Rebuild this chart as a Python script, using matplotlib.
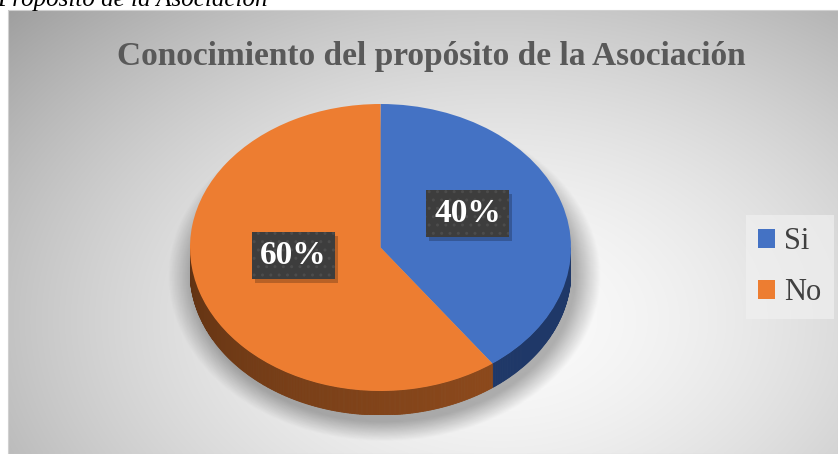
import numpy as np
import matplotlib
matplotlib.use("Agg")
import matplotlib.pyplot as plt
from matplotlib.patches import Polygon, Rectangle

# survey answers
categories = ["Si", "No"]
shares = [40, 60]
slice_colors = ["#4472C4", "#ED7D31"]
title = "Conocimiento del propósito de la Asociación"
caption = "Propósito de la Asociación"

W, H = 838, 454
SERIF = ["Liberation Serif", "DejaVu Serif"]

fig = plt.figure(figsize=(W / 100, H / 100), dpi=100)
fig.patch.set_facecolor("white")

# pixel-space axes for background, shadow, titles, legend
ax = fig.add_axes([0, 0, 1, 1])
ax.set_xlim(0, W)
ax.set_ylim(H, 0)
ax.axis("off")

# chart area with radial grey gradient
x0, y0, x1, y1 = 8, 10, W, H
gx, gy = np.meshgrid(np.linspace(x0, x1, 300), np.linspace(y0, y1, 200))
r = np.sqrt(((gx - 500) / 560) ** 2 + ((gy - 320) / 380) ** 2)
shade = np.clip(0.985 - 0.27 * r ** 1.6, 0, 1)
ax.imshow(np.dstack([shade] * 3), extent=[x0, x1, y1, y0], aspect="auto",
          interpolation="bilinear", zorder=0)
ax.add_patch(Rectangle((x0, y0), x1 - x0, y1 - y0, fill=False,
                       ec="#d0d0d0", lw=0.8, zorder=1))

# soft shadow under the pie
sx, sy = np.meshgrid(np.linspace(150, 620, 300), np.linspace(90, 454, 240))
d = np.sqrt(((sx - 384) / 197) ** 2 + ((sy - 276) / 151) ** 2)
alpha = 0.30 * np.clip((1.10 - d) / 0.13, 0, 1)
shadow = np.zeros(sx.shape + (4,))
shadow[..., 3] = alpha
ax.imshow(shadow, extent=[150, 620, 454, 90], aspect="auto",
          interpolation="bilinear", zorder=2)

# pie axes: unit circle mapped onto the ellipse of the top face
cx, cy, a, b, depth = 380.5, 247.5, 190.5, 143.5, 24
dz = depth / b
pax = fig.add_axes([(cx - a) / W, (H - (cy + b + depth)) / H,
                    2 * a / W, (2 * b + depth) / H])
wedges, _, autotexts = pax.pie(
    shares, colors=slice_colors, startangle=90, counterclock=False,
    autopct="%1.0f%%", pctdistance=0.48,
    textprops=dict(color="white", fontsize=24, fontweight="bold", family=SERIF),
)
pax.set_aspect("auto")
pax.set_xlim(-1, 1)
pax.set_ylim(-1 - dz, 1)
pax.axis("off")
pax.patch.set_alpha(0)


def side_color(t, base):
    # darker towards the left end of the rim
    k = 0.55 + 0.3 * np.clip((t + 180) / 120, 0, 1) ** 0.7
    return tuple(np.clip(np.array(base) * k, 0, 1))


side_bases = [matplotlib.colors.to_rgb("#25427a"), matplotlib.colors.to_rgb("#a35520")]
for w, base in zip(wedges, side_bases):
    for shift in (-360, 0, 360):
        lo = max(w.theta1 + shift, -180)
        hi = min(w.theta2 + shift, 0)
        if hi <= lo:
            continue
        ts = np.linspace(lo, hi, int((hi - lo) * 2) + 2)
        for t1, t2 in zip(ts[:-1], ts[1:]):
            r1, r2 = np.radians(t1), np.radians(t2)
            pts = [(np.cos(r1), np.sin(r1)), (np.cos(r2), np.sin(r2)),
                   (np.cos(r2), np.sin(r2) - dz), (np.cos(r1), np.sin(r1) - dz)]
            pax.add_patch(Polygon(pts, closed=True, fc=side_color(t1, base),
                                  ec=side_color(t1, base), lw=0.6, zorder=0.5))

for w in wedges:
    w.set_zorder(1)
    w.set_edgecolor("none")

# percentage labels in dark dotted boxes
for t in autotexts:
    px, py = t.get_position()
    t.set_position((px, py + 0.09))
    t.set_zorder(5)
    t.set_bbox(dict(boxstyle="square,pad=0.24", fc="#3d3d3d", ec="#4c4c4c",
                    lw=0, hatch=".."))

# drop shadow behind each label box, sized from the rendered box
fig.canvas.draw()
inv = pax.transData.inverted()
for t in autotexts:
    ext = t.get_bbox_patch().get_window_extent()
    (bx0, by0), (bx1, by1) = inv.transform([[ext.x0 + 3, ext.y0 - 4],
                                            [ext.x1 + 3, ext.y1 - 4]])
    pax.add_patch(Rectangle((bx0, by0), bx1 - bx0, by1 - by0,
                            fc="black", ec="none", alpha=0.22, zorder=4))

# titles
ax.text(431, 56, title, ha="center", va="center", fontsize=24,
        fontweight="bold", color="#595959", family=SERIF, zorder=6)
ax.text(-3, 6, caption, ha="left", va="baseline", fontsize=18,
        fontstyle="italic", color="black", family=SERIF, zorder=6)

leg = ax.legend(wedges, categories, loc="upper left",
                bbox_to_anchor=(746, 215), bbox_transform=ax.transData,
                frameon=True, fancybox=False, facecolor="#f0f0f0",
                edgecolor="none", framealpha=0.7,
                prop=dict(family=SERIF, size=22),
                handlelength=0.55, handleheight=0.55, handletextpad=0.3,
                labelspacing=0.72, borderpad=0.4, borderaxespad=0)
for txt in leg.get_texts():
    txt.set_color("#404040")
leg.set_zorder(6)

fig.savefig("out.png", dpi=100)
